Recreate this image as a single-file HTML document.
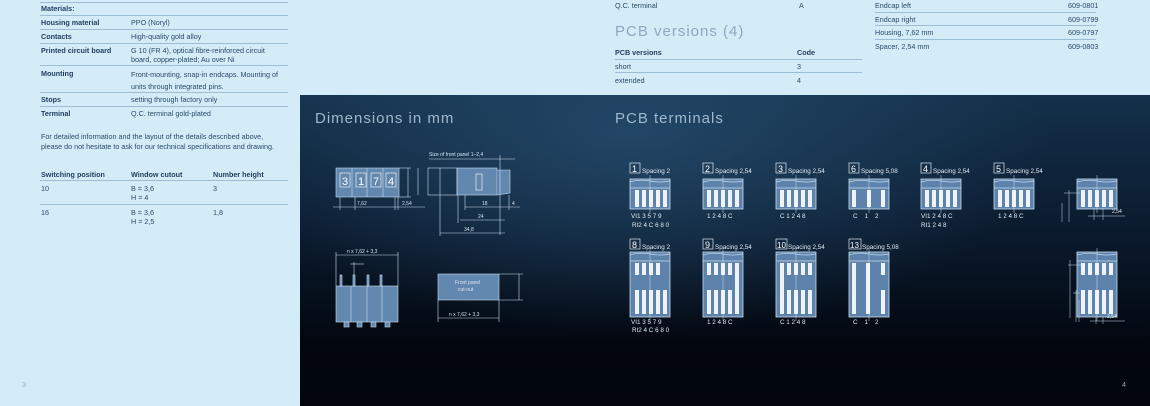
<!DOCTYPE html>
<html><head><meta charset="utf-8">
<style>
*{margin:0;padding:0;box-sizing:border-box}
body{width:1150px;height:406px;position:relative;overflow:hidden;background:#d4ebf8;font-family:"Liberation Sans",sans-serif;color:#2a4a6a;font-size:7.2px}
.t{position:absolute;white-space:nowrap;line-height:9px}
.b{font-weight:bold;color:#1f3d5e;font-family:"Liberation Sans Narrow","Liberation Sans",sans-serif;transform-origin:left;}
.l{position:absolute;height:1px;background:#9cbdd4}
.dark{position:absolute;left:300px;top:95px;width:850px;height:311px;
background:radial-gradient(ellipse 420px 200px at 330px 40px,rgba(40,80,115,.75),rgba(0,0,0,0) 100%),linear-gradient(180deg,#14304a 0%,#0a1a2d 45%,#03070f 80%,#02050c 100%)}
.h{position:absolute;font-size:15px;color:#9fb8cc;letter-spacing:1px;font-weight:normal}
svg text{white-space:pre}
</style></head><body>
<div class="l" style="left:40px;top:2px;width:248px"></div>
<div class="t b" style="left:41px;top:4px">Materials:</div>
<div class="l" style="left:40px;top:15px;width:248px"></div>
<div class="t b" style="left:41px;top:18px">Housing material</div><div class="t" style="left:131px;top:18px">PPO (Noryl)</div>
<div class="l" style="left:40px;top:29px;width:248px"></div>
<div class="t b" style="left:41px;top:32px">Contacts</div><div class="t" style="left:131px;top:32px">High-quality gold alloy</div>
<div class="l" style="left:40px;top:43px;width:248px"></div>
<div class="t b" style="left:41px;top:46px">Printed circuit board</div><div class="t" style="left:131px;top:46px">G 10 (FR 4), optical fibre-reinforced circuit<br>board, copper-plated; Au over Ni</div>
<div class="l" style="left:40px;top:65px;width:248px"></div>
<div class="t b" style="left:41px;top:69px">Mounting</div><div class="t" style="left:131px;top:69px;line-height:12px">Front-mounting, snap-in endcaps. Mounting of<br>units through integrated pins.</div>
<div class="l" style="left:40px;top:92px;width:248px"></div>
<div class="t b" style="left:41px;top:95px">Stops</div><div class="t" style="left:131px;top:95px">setting through factory only</div>
<div class="l" style="left:40px;top:106px;width:248px"></div>
<div class="t b" style="left:41px;top:109px">Terminal</div><div class="t" style="left:131px;top:109px">Q.C. terminal gold-plated</div>
<div class="t" style="left:41px;top:132px;line-height:10px">For detailed information and the layout of the details described above,<br>please do not hesitate to ask for our technical specifications and drawing.</div>
<div class="t b" style="left:41px;top:170px">Switching position</div><div class="t b" style="left:131px;top:170px">Window cutout</div><div class="t b" style="left:213px;top:170px">Number height</div>
<div class="l" style="left:40px;top:180px;width:248px"></div>
<div class="t" style="left:41px;top:184px">10</div><div class="t" style="left:131px;top:184px">B = 3,6<br>H = 4</div><div class="t" style="left:213px;top:184px">3</div>
<div class="l" style="left:40px;top:204px;width:248px"></div>
<div class="t" style="left:41px;top:208px">16</div><div class="t" style="left:131px;top:208px">B = 3,6<br>H = 2,5</div><div class="t" style="left:213px;top:208px">1,8</div>
<div class="t" style="left:22px;top:380px;color:#8fb0c8">3</div>
<div class="t" style="left:615px;top:1px">Q.C. terminal</div><div class="t" style="left:799px;top:1px">A</div>
<div class="t" style="left:615px;top:23px;font-size:15px;line-height:18px;color:#8ea9c0;letter-spacing:1px">PCB versions (4)</div>
<div class="t b" style="left:615px;top:48px">PCB versions</div><div class="t b" style="left:797px;top:48px">Code</div>
<div class="l" style="left:615px;top:59px;width:247px"></div>
<div class="t" style="left:615px;top:62px">short</div><div class="t" style="left:797px;top:62px">3</div>
<div class="l" style="left:615px;top:72px;width:247px"></div>
<div class="t" style="left:615px;top:76px">extended</div><div class="t" style="left:797px;top:76px">4</div>
<div class="t" style="left:875px;top:1px">Endcap left</div><div class="t" style="left:1068px;top:1px">609-0801</div>
<div class="l" style="left:875px;top:12px;width:221px"></div>
<div class="t" style="left:875px;top:15px">Endcap right</div><div class="t" style="left:1068px;top:15px">609-0799</div>
<div class="l" style="left:875px;top:25px;width:221px"></div>
<div class="t" style="left:875px;top:28px">Housing, 7,62 mm</div><div class="t" style="left:1068px;top:28px">609-0797</div>
<div class="l" style="left:875px;top:39px;width:221px"></div>
<div class="t" style="left:875px;top:42px">Spacer, 2,54 mm</div><div class="t" style="left:1068px;top:42px">609-0803</div>
<div class="dark"></div>
<div class="h" style="left:315px;top:110px">Dimensions in mm</div>
<div class="h" style="left:615px;top:110px">PCB terminals</div>
<div class="t" style="left:1122px;top:380px;color:#8fa8bd">4</div>
<svg style="position:absolute;left:0;top:0" width="1150" height="406" font-family="Liberation Sans,sans-serif">
<defs>
<g id="top"><rect x="0" y="0" width="40" height="30" fill="#5d82ab" stroke="#c9dced" stroke-width="0.8"/><path d="M0 3 Q10 0 20 2 T40 2" fill="none" stroke="#c9dced" stroke-width="0.7"/><line x1="0" y1="9" x2="40" y2="9" stroke="#c9dced" stroke-width="0.7"/><line x1="20" y1="-4" x2="20" y2="34" stroke="#c9dced" stroke-width="0.5"/></g>
<g id="st"><rect x="0" y="0" width="4" height="17" fill="#fff" opacity=".9"/></g>
<g id="tall"><rect x="0" y="0" width="40" height="65" fill="#5d82ab" stroke="#c9dced" stroke-width="0.8"/><path d="M0 3 Q10 0 20 2 T40 2" fill="none" stroke="#c9dced" stroke-width="0.7"/><line x1="0" y1="9" x2="40" y2="9" stroke="#c9dced" stroke-width="0.7"/><line x1="20" y1="-4" x2="20" y2="69" stroke="#c9dced" stroke-width="0.5"/></g>
</defs>
<g stroke="#c9dced" stroke-width="0.6" fill="none">
<rect x="336" y="168" width="63" height="29" fill="#6388b0"/>
<line x1="352" y1="168" x2="352" y2="197"/><line x1="367" y1="168" x2="367" y2="197"/><line x1="383" y1="168" x2="383" y2="197"/>
<line x1="399" y1="168" x2="411" y2="168"/><line x1="399" y1="197" x2="411" y2="197"/><line x1="408" y1="168" x2="408" y2="197"/>
<line x1="333" y1="207" x2="425" y2="207"/><line x1="340" y1="197" x2="340" y2="210"/><line x1="355" y1="197" x2="355" y2="210"/><line x1="395" y1="197" x2="395" y2="210"/><line x1="398" y1="197" x2="398" y2="210"/>
<rect x="457" y="168" width="40" height="27" fill="#6388b0"/>
<path d="M497 170 L510 170 L510 193 L497 195" fill="#6388b0"/>
<rect x="476" y="174" width="6" height="16" stroke="#fff"/>
<rect x="428" y="168" width="29" height="27"/>
<line x1="440" y1="168" x2="440" y2="195"/>
<line x1="429" y1="159" x2="515" y2="159"/><line x1="500" y1="155" x2="500" y2="235"/>
<line x1="465" y1="207" x2="520" y2="207"/><line x1="460" y1="220" x2="505" y2="220"/><line x1="440" y1="233" x2="505" y2="233"/>
<line x1="465" y1="195" x2="465" y2="210"/><line x1="458" y1="195" x2="458" y2="223"/><line x1="440" y1="195" x2="440" y2="236"/><line x1="509" y1="195" x2="509" y2="210"/>
<line x1="418" y1="168" x2="418" y2="195"/>
<rect x="336" y="286" width="62" height="36" fill="#6388b0"/>
<line x1="351" y1="286" x2="351" y2="322"/><line x1="367" y1="286" x2="367" y2="322"/><line x1="382" y1="286" x2="382" y2="322"/>
<line x1="336" y1="255" x2="398" y2="255"/><line x1="336" y1="252" x2="336" y2="286"/><line x1="398" y1="252" x2="398" y2="286"/>
<line x1="350" y1="264" x2="364" y2="264"/><line x1="354" y1="262" x2="354" y2="286"/>
<rect x="340" y="275" width="2" height="11" fill="#6388b0"/><rect x="353" y="275" width="2" height="11" fill="#6388b0"/><rect x="367" y="275" width="2" height="11" fill="#6388b0"/><rect x="380" y="275" width="2" height="11" fill="#6388b0"/>
<rect x="344" y="322" width="5" height="5" fill="#6388b0"/><rect x="357" y="322" width="5" height="5" fill="#6388b0"/><rect x="371" y="322" width="5" height="5" fill="#6388b0"/><rect x="385" y="322" width="5" height="5" fill="#6388b0"/>
<rect x="438" y="274" width="61" height="26" fill="#6388b0"/>
<line x1="499" y1="274" x2="523" y2="274"/><line x1="499" y1="300" x2="523" y2="300"/><line x1="519" y1="274" x2="519" y2="300"/>
<line x1="438" y1="300" x2="438" y2="322"/><line x1="499" y1="300" x2="499" y2="322"/><line x1="438" y1="318" x2="499" y2="318"/>
</g>
<g fill="#fff" font-size="11"><rect x="340" y="173" width="10" height="14" fill="none" stroke="#fff" stroke-width=".6"/><text x="342" y="185">3</text><rect x="356" y="173" width="10" height="14" fill="none" stroke="#fff" stroke-width=".6"/><text x="358" y="185">1</text><rect x="371" y="173" width="10" height="14" fill="none" stroke="#fff" stroke-width=".6"/><text x="373" y="185">7</text><rect x="386" y="173" width="10" height="14" fill="none" stroke="#fff" stroke-width=".6"/><text x="388" y="185">4</text></g>
<g fill="#d6e4f0" font-size="5">
<text x="429" y="156">Size of front panel 1–2,4</text><text x="357" y="205">7,62</text><text x="402" y="205">2,54</text>
<text x="482" y="205">18</text><text x="512" y="205">4</text><text x="478" y="218">24</text><text x="464" y="231">34,8</text>
<text x="347" y="253">n x 7,62 + 3,3</text><text x="449" y="316">n x 7,62 + 3,3</text>
<text x="455" y="284">Front panel</text><text x="458" y="291">cut-out</text>
</g>
<g fill="none" stroke="#dfe9f3" stroke-width="0.7">
<rect x="630" y="163" width="10" height="10"/><rect x="703" y="163" width="10" height="10"/><rect x="776" y="163" width="10" height="10"/><rect x="849" y="163" width="10" height="10"/><rect x="921" y="163" width="10" height="10"/><rect x="994" y="163" width="10" height="10"/>
<rect x="630" y="239" width="10" height="10"/><rect x="703" y="239" width="10" height="10"/><rect x="776" y="239" width="11" height="10"/><rect x="849" y="239" width="12" height="10"/>
</g>
<g fill="#fff" font-size="9"><text x="632" y="172">1</text><text x="705" y="172">2</text><text x="778" y="172">3</text><text x="851" y="172">6</text><text x="923" y="172">4</text><text x="996" y="172">5</text>
<text x="632" y="248">8</text><text x="705" y="248">9</text><text x="777" y="248" font-size="8">10</text><text x="850" y="248" font-size="8">13</text></g>
<g fill="#e3ecf5" font-size="6.3"><text x="642" y="173">Spacing 2</text><text x="715" y="173">Spacing 2,54</text><text x="788" y="173">Spacing 2,54</text><text x="861" y="173">Spacing 5,08</text><text x="933" y="173">Spacing 2,54</text><text x="1006" y="173">Spacing 2,54</text>
<text x="642" y="249">Spacing 2</text><text x="715" y="249">Spacing 2,54</text><text x="788" y="249">Spacing 2,54</text><text x="862" y="249">Spacing 5,08</text>
<text x="631" y="218">VI1 3 5 7 9</text><text x="632" y="227">RI2 4 C 6 8 0</text><text x="707" y="218">1 2 4 8 C</text><text x="780" y="218">C 1 2 4 8</text><text x="853" y="218">C    1    2</text><text x="921" y="218">VI1 2 4 8 C</text><text x="921" y="227">RI1 2 4 8</text><text x="998" y="218">1 2 4 8 C</text>
<text x="631" y="324">VI1 3 5 7 9</text><text x="632" y="332">RI2 4 C 6 8 0</text><text x="707" y="324">1 2 4 8 C</text><text x="780" y="324">C 1 2 4 8</text><text x="853" y="324">C    1    2</text>
</g>
<use href="#top" x="630" y="179"/><use href="#top" x="703" y="179"/><use href="#top" x="776" y="179"/><use href="#top" x="849" y="179"/><use href="#top" x="921" y="179"/><use href="#top" x="994" y="179"/>
<use href="#top" x="1077" y="179"/>
<use href="#tall" x="630" y="252"/><use href="#tall" x="703" y="252"/><use href="#tall" x="776" y="252"/><use href="#tall" x="849" y="252"/><use href="#tall" x="1077" y="252"/>
<g>
<use href="#st" x="635" y="190"/><use href="#st" x="642" y="190"/><use href="#st" x="649" y="190"/><use href="#st" x="656" y="190"/><use href="#st" x="663" y="190"/>
<use href="#st" x="707" y="190"/><use href="#st" x="714" y="190"/><use href="#st" x="721" y="190"/><use href="#st" x="728" y="190"/><use href="#st" x="735" y="190"/>
<use href="#st" x="780" y="190"/><use href="#st" x="787" y="190"/><use href="#st" x="794" y="190"/><use href="#st" x="801" y="190"/><use href="#st" x="808" y="190"/>
<use href="#st" x="852" y="190"/><use href="#st" x="867" y="190"/><use href="#st" x="881" y="190"/>
<use href="#st" x="925" y="190"/><use href="#st" x="932" y="190"/><use href="#st" x="939" y="190"/><use href="#st" x="946" y="190"/><use href="#st" x="953" y="190"/>
<use href="#st" x="998" y="190"/><use href="#st" x="1005" y="190"/><use href="#st" x="1012" y="190"/><use href="#st" x="1019" y="190"/><use href="#st" x="1026" y="190"/>
<use href="#st" x="1081" y="190"/><use href="#st" x="1088" y="190"/><use href="#st" x="1095" y="190"/><use href="#st" x="1102" y="190"/><use href="#st" x="1109" y="190"/>
</g>
<g fill="#fff" opacity=".9">
<rect x="635" y="263" width="4" height="12"/><rect x="642" y="263" width="4" height="12"/><rect x="649" y="263" width="4" height="12"/><rect x="656" y="263" width="4" height="12"/>
<rect x="635" y="290" width="4" height="24"/><rect x="642" y="290" width="4" height="24"/><rect x="649" y="290" width="4" height="24"/><rect x="656" y="290" width="4" height="24"/><rect x="663" y="290" width="4" height="24"/>
<rect x="707" y="263" width="4" height="12"/><rect x="714" y="263" width="4" height="12"/><rect x="721" y="263" width="4" height="12"/><rect x="728" y="263" width="4" height="12"/><rect x="735" y="263" width="4" height="51"/>
<rect x="707" y="290" width="4" height="24"/><rect x="714" y="290" width="4" height="24"/><rect x="721" y="290" width="4" height="24"/><rect x="728" y="290" width="4" height="24"/>
<rect x="780" y="263" width="4" height="51"/><rect x="787" y="263" width="4" height="12"/><rect x="794" y="263" width="4" height="12"/><rect x="801" y="263" width="4" height="12"/><rect x="808" y="263" width="4" height="12"/>
<rect x="787" y="290" width="4" height="24"/><rect x="794" y="290" width="4" height="24"/><rect x="801" y="290" width="4" height="24"/><rect x="808" y="290" width="4" height="24"/>
<rect x="852" y="263" width="4" height="51"/><rect x="866" y="263" width="4" height="51"/><rect x="881" y="263" width="4" height="12"/><rect x="881" y="290" width="4" height="24"/>
<rect x="1081" y="263" width="4" height="12"/><rect x="1088" y="263" width="4" height="12"/><rect x="1095" y="263" width="4" height="12"/><rect x="1102" y="263" width="4" height="12"/><rect x="1109" y="263" width="4" height="12"/>
<rect x="1081" y="290" width="4" height="24"/><rect x="1088" y="290" width="4" height="24"/><rect x="1095" y="290" width="4" height="24"/><rect x="1102" y="290" width="4" height="24"/><rect x="1109" y="290" width="4" height="24"/>
</g>
<g stroke="#c9dced" stroke-width="0.5" fill="none">
<line x1="1064" y1="193" x2="1080" y2="193"/><line x1="1069" y1="190" x2="1069" y2="222"/><line x1="1062" y1="203" x2="1062" y2="222"/>
<line x1="1088" y1="216" x2="1125" y2="216"/><line x1="1094" y1="208" x2="1094" y2="220"/><line x1="1103" y1="208" x2="1103" y2="220"/>
<line x1="1068" y1="265" x2="1082" y2="265"/><line x1="1070" y1="260" x2="1070" y2="318"/><line x1="1073" y1="293" x2="1080" y2="293"/><line x1="1076" y1="290" x2="1076" y2="322"/><line x1="1079" y1="300" x2="1079" y2="322"/>
<line x1="1090" y1="321" x2="1125" y2="321"/><line x1="1096" y1="317" x2="1096" y2="324"/><line x1="1103" y1="317" x2="1103" y2="324"/>
</g>
<g fill="#e3ecf5" font-size="5"><text x="1112" y="213">2,54</text><text x="1107" y="318">2,54</text></g>
</svg>
</body></html>
